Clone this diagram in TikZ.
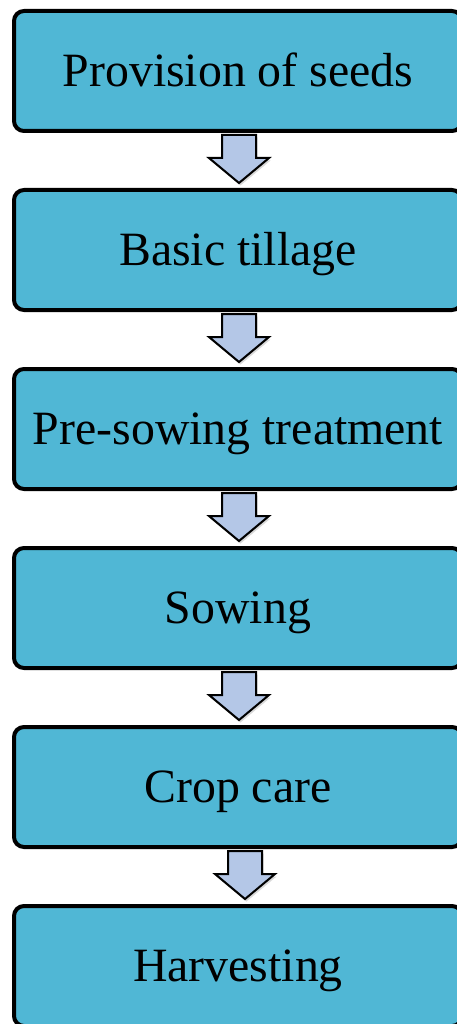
\documentclass[tikz,border=0pt]{standalone}
\usepackage{fontspec}
\setmainfont{Liberation Serif}
\usetikzlibrary{calc,shadows}
\definecolor{boxfill}{RGB}{80,183,213}
\definecolor{arrfill}{RGB}{180,199,231}
\newcommand{\flowarrow}[3]{%
  \draw[blockarrow]
    ($(#1.south)+(#3-17,2)$) -- ($(#1.south)+(#3-17,25)$) -- ($(#1.south)+(#3-30,25)$)
    -- ($(#2.north)+(#3,-5)$)
    -- ($(#1.south)+(#3+30,25)$) -- ($(#1.south)+(#3+17,25)$) -- ($(#1.south)+(#3+17,2)$) -- cycle;}
\begin{document}
\begin{tikzpicture}[x=1pt,y=-1pt,
  stagebox/.style={draw=black, line width=4pt, fill=boxfill, rounded corners=10pt,
    minimum width=448pt, minimum height=120pt, inner sep=0pt,
    text height=31.5pt, text depth=0pt,
    font=\fontsize{47.8}{50}\selectfont},
  blockarrow/.style={draw=black, line width=2pt, fill=arrfill, line join=miter,
    drop shadow={opacity=0.3, shadow xshift=1.5pt, shadow yshift=-2.5pt}}]
\useasboundingbox (0,0) rectangle (457,1024);
\clip (0,0) rectangle (457,1024);
\node[stagebox] (b1) at (238,71)  {Provision of seeds};
\node[stagebox] (b2) at (238,250) {Basic tillage};
\node[stagebox] (b3) at (238,429) {Pre-sowing treatment};
\node[stagebox] (b4) at (238,608) {Sowing};
\node[stagebox] (b5) at (238,787) {Crop care};
\node[stagebox] (b6) at (238,966) {Harvesting};
\flowarrow{b1}{b2}{1}
\flowarrow{b2}{b3}{1}
\flowarrow{b3}{b4}{1}
\flowarrow{b4}{b5}{1}
\flowarrow{b5}{b6}{7}
\end{tikzpicture}
\end{document}
